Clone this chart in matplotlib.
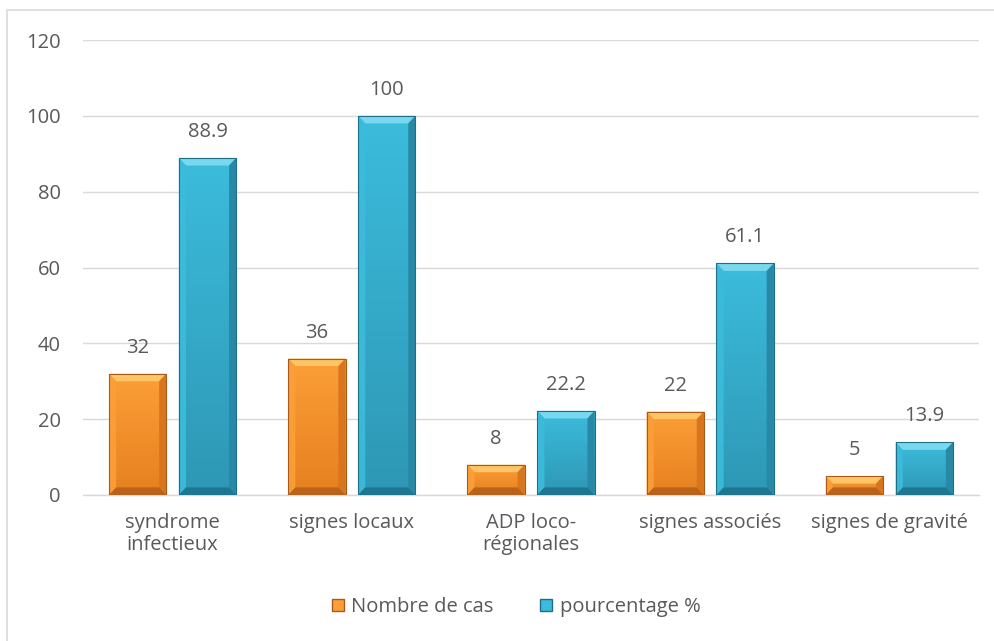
import numpy as np
import matplotlib.pyplot as plt
from matplotlib.patches import Polygon, Rectangle
from matplotlib.lines import Line2D
from matplotlib.colors import LinearSegmentedColormap

# Données
categories = ['syndrome\ninfectieux', 'signes locaux', 'ADP loco-\nrégionales',
              'signes associés', 'signes de gravité']
nombre_cas = [32, 36, 8, 22, 5]
pourcentage = [88.9, 100, 22.2, 61.1, 13.9]
labels_pct = ['88.9', '100', '22.2', '61.1', '13.9']

plt.rcParams['font.family'] = ['Open Sans', 'DejaVu Sans']
texte = '#595959'
fs = 14.5

fig = plt.figure(figsize=(9.95, 6.41), dpi=100)
ax = fig.add_axes([83 / 995, 1 - 495 / 641, 896 / 995, 455 / 641])

# cadre du graphique
fig.patches.append(Rectangle((7 / 995, -0.05), 1.1, 1 - 10 / 641 + 0.05,
                             transform=fig.transFigure, fill=False,
                             edgecolor='#D9D9D9', lw=1.2))

x = np.arange(len(categories))
w = 0.32
off = 0.195

styles = {
    'orange': dict(top='#FC9F38', bottom='#E6801F', light='#FDC566',
                   dark='#B8621A', side='#D9761D', edge='#A85A18'),
    'bleu': dict(top='#3CBCDC', bottom='#2E97B5', light='#7AD8EE',
                 dark='#1F7690', side='#2889A6', edge='#1E6E86'),
}


def barres_biseautees(xs, vals, st, label):
    bars = ax.bar(xs, vals, w, color=st['top'], edgecolor='none', zorder=3, label=label)
    cmap = LinearSegmentedColormap.from_list('g', [st['bottom'], st['top']])
    grad = np.linspace(0, 1, 256).reshape(-1, 1)
    bx = 0.04
    by = 2.0
    for b in bars:
        x0, x1 = b.get_x(), b.get_x() + b.get_width()
        h = b.get_height()
        e = min(by, h / 2.5)
        # dégradé vertical de la face
        im = ax.imshow(grad, cmap=cmap, extent=(x0, x1, 0, h), origin='lower',
                       aspect='auto', zorder=3.5, interpolation='bilinear')
        im.set_clip_path(b)
        # face supérieure
        ax.add_patch(Polygon([(x0, h), (x1, h), (x1 - bx, h - e), (x0 + bx, h - e)],
                             closed=True, color=st['light'], lw=0, zorder=4))
        # côté droit
        ax.add_patch(Polygon([(x1, h), (x1, 0), (x1 - bx, e), (x1 - bx, h - e)],
                             closed=True, color=st['side'], lw=0, zorder=4))
        # côté gauche
        ax.add_patch(Polygon([(x0, h), (x0, 0), (x0 + bx, e), (x0 + bx, h - e)],
                             closed=True, color=st['top'], lw=0, zorder=4, alpha=0.9))
        # bas
        ax.add_patch(Polygon([(x0, 0), (x1, 0), (x1 - bx, e), (x0 + bx, e)],
                             closed=True, color=st['dark'], lw=0, zorder=4))
        ax.add_patch(Rectangle((x0, 0), b.get_width(), h, fill=False,
                               edgecolor=st['edge'], lw=0.8, zorder=5))
    return bars


b1 = barres_biseautees(x - off, nombre_cas, styles['orange'], 'Nombre de cas')
b2 = barres_biseautees(x + off, pourcentage, styles['bleu'], 'pourcentage %')

for xi, v in zip(x - off, nombre_cas):
    ax.text(xi, v + 4.2, str(v), ha='center', va='bottom', fontsize=fs, color=texte, zorder=6)
for xi, v, s in zip(x + off, pourcentage, labels_pct):
    ax.text(xi, v + 4.2, s, ha='center', va='bottom', fontsize=fs, color=texte, zorder=6)

ax.set_xlim(-0.5, len(categories) - 0.5)
ax.set_ylim(0, 120)
ax.set_yticks(np.arange(0, 121, 20))
ax.set_xticks(x)
ax.set_xticklabels(categories, fontsize=fs, color=texte, linespacing=1.1)
ax.tick_params(axis='y', labelsize=fs, labelcolor=texte, length=0, pad=16)
ax.tick_params(axis='x', length=0, pad=13)
ax.grid(axis='y', color='#D9D9D9', lw=1, zorder=0)
for s in ['left', 'right', 'top']:
    ax.spines[s].set_visible(False)
ax.spines['bottom'].set_color('#D9D9D9')
ax.spines['bottom'].set_linewidth(1)

poignees = [Line2D([], [], marker='s', ls='', markersize=8,
                   markerfacecolor=styles['orange']['top'],
                   markeredgecolor=styles['orange']['edge']),
            Line2D([], [], marker='s', ls='', markersize=8,
                   markerfacecolor=styles['bleu']['top'],
                   markeredgecolor=styles['bleu']['edge'])]
fig.legend(poignees, ['Nombre de cas', 'pourcentage %'], loc='center',
           bbox_to_anchor=(0.518, 1 - 607 / 641), ncol=2, frameon=False,
           fontsize=fs, labelcolor=texte, handlelength=0.7, handletextpad=0.3,
           columnspacing=2.3)

fig.savefig('out.png', dpi=100, facecolor='white')
